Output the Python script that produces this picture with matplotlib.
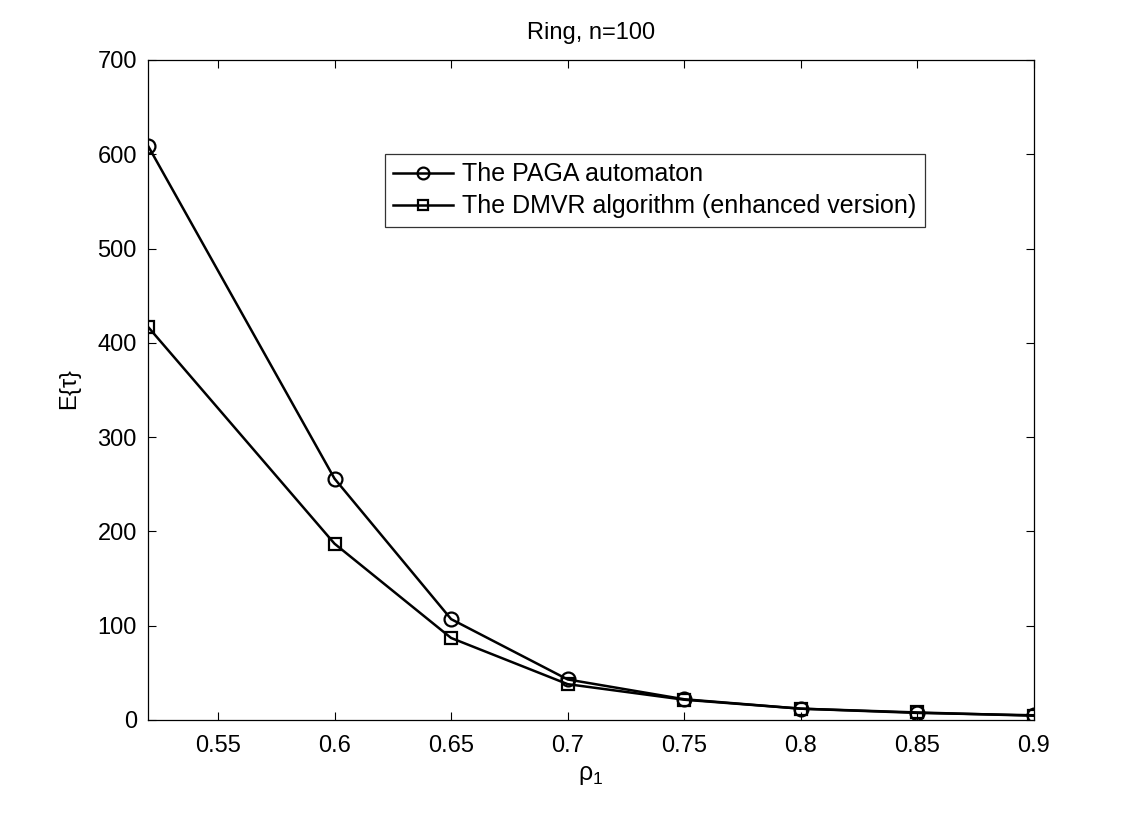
import matplotlib
matplotlib.use("Agg")
import matplotlib.pyplot as plt

rho = [0.52, 0.6, 0.65, 0.7, 0.75, 0.8, 0.85, 0.9]
paga = [609, 256, 107, 43, 22, 12, 7.5, 5]
dmvr = [417, 187, 87, 38, 21.5, 12, 8, 4.5]

x_ticks = [0.55, 0.6, 0.65, 0.7, 0.75, 0.8, 0.85, 0.9]
x_labels = ["0.55", "0.6", "0.65", "0.7", "0.75", "0.8", "0.85", "0.9"]
y_ticks = [0, 100, 200, 300, 400, 500, 600, 700]

plt.rcParams["font.family"] = ["Liberation Sans", "DejaVu Sans"]

fig = plt.figure(figsize=(11.42, 8.13), dpi=100)
ax = fig.add_axes([0.1296, 0.1144, 0.7758, 0.8118])

ax.plot(rho, paga, color="black", lw=1.8, marker="o", ms=10, mfc="none",
        mew=1.6, label="The PAGA automaton")
ax.plot(rho, dmvr, color="black", lw=1.8, marker="s", ms=8.5, mfc="none",
        mew=1.6, label="The DMVR algorithm (enhanced version)")

ax.set_xlim(0.52, 0.9)
ax.set_ylim(0, 700)
ax.set_xticks(x_ticks)
ax.set_xticklabels(x_labels)
ax.set_yticks(y_ticks)
ax.tick_params(direction="in", top=True, right=True, labelsize=17,
               length=6, width=0.8)
ax.tick_params(axis="x", pad=11)
ax.tick_params(axis="y", pad=8)
for s in ax.spines.values():
    s.set_linewidth(0.9)

ax.set_xlabel(r"$\mathregular{\rho_1}$", fontsize=18, labelpad=4)
ax.set_ylabel(r"E{$\mathregular{\tau}$}", fontsize=17, labelpad=10)
ax.set_title("Ring, n=100", fontsize=17, pad=15)

leg = ax.legend(loc="upper left", bbox_to_anchor=(0.267, 0.858), fontsize=18,
                frameon=True, fancybox=False, edgecolor="black",
                handlelength=2.4, borderpad=0.35, labelspacing=0.32,
                handletextpad=0.35, borderaxespad=0, markerscale=0.85)
leg.get_frame().set_linewidth(0.9)

fig.savefig("out.png", dpi=100)
